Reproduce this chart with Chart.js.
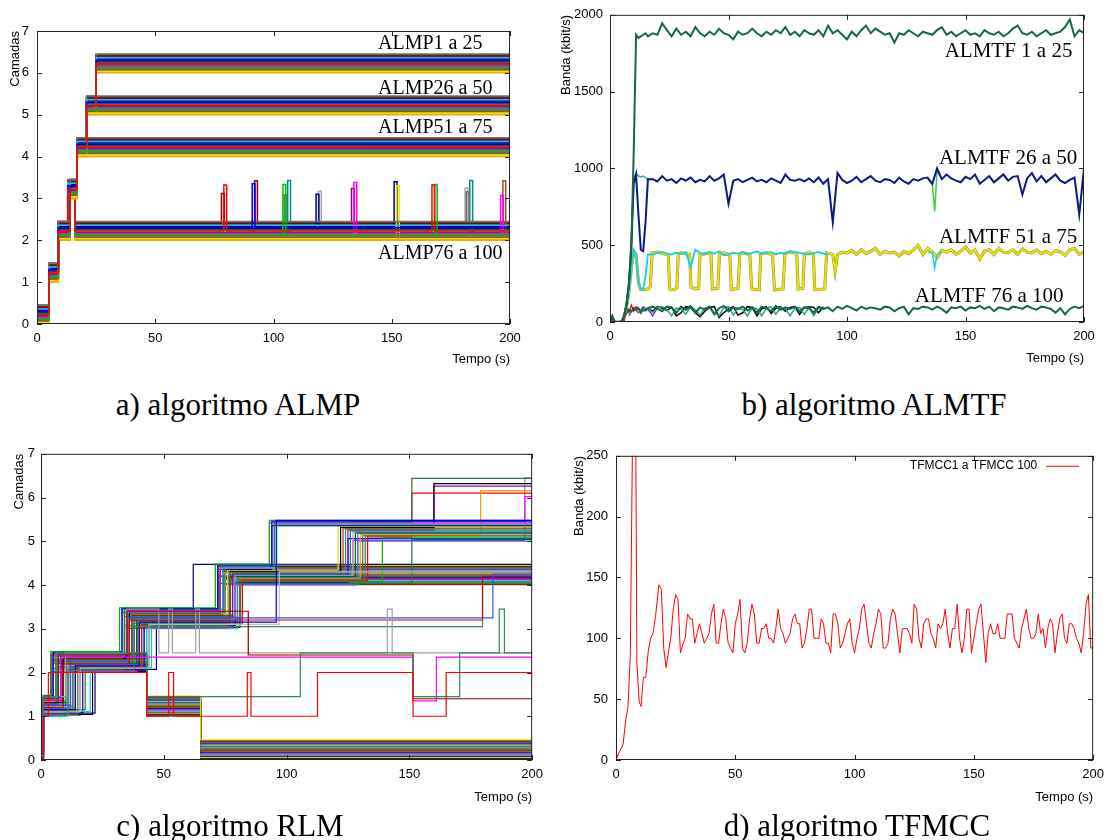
<!DOCTYPE html>
<html>
<head>
<meta charset="utf-8">
<script src="https://cdn.jsdelivr.net/npm/chart.js@4.4.1/dist/chart.umd.min.js"></script>
<style>
  body { margin: 0; width: 1111px; height: 840px; background: #fff; position: relative; overflow: hidden; }
  canvas { position: absolute; }
  .cap { position: absolute; font-family: "Liberation Serif", "Times New Roman", serif; font-size: 31px; line-height: 31px; color: #000; white-space: nowrap; transform: translateX(-50%); }
</style>
</head>
<body>
<canvas id="almp" width="545" height="375" style="left:0;top:0"></canvas>
<canvas id="almtf" width="561" height="375" style="left:550px;top:0"></canvas>
<canvas id="rlm" width="550" height="380" style="left:0;top:440px"></canvas>
<canvas id="tfmcc" width="561" height="380" style="left:550px;top:440px"></canvas>
<div class="cap" style="left:238px;top:389px">a) algoritmo ALMP</div>
<div class="cap" style="left:874px;top:389px">b) algoritmo ALMTF</div>
<div class="cap" style="left:230px;top:810px">c) algoritmo RLM</div>
<div class="cap" style="left:857px;top:810px">d) algoritmo TFMCC</div>
<script>
// ---------- a) ALMP: layer step profiles per group of 25 receivers ----------
const almpTimes1 = [0, 5, 9, 14, 17, 21, 25, 200];
const almpLayers1 = [0, 1, 2, 3, 4, 5, 6, 6];
const almpTimes2 = [0, 5, 9, 14, 17, 21, 200];
const almpLayers2 = [0, 1, 2, 3, 4, 5, 5];
const almpTimes3 = [0, 5, 9, 14, 17, 200];
const almpLayers3 = [0, 1, 2, 3, 4, 4];
const almpTimes4 = [0, 5, 9, 13, 16, 200];
const almpLayers4 = [0, 1, 2, 3, 2, 2];
// per-receiver vertical offset inside a group (gnuplot stacking)
const almpOffsets = [0.22, 0.12, 0.30, 0.16, 0.36, 0.08, 0.45, 0.26, 0.04, 0.33, 0.19, 0.40, 0.10,
                     0.28, 0.02, 0.38, 0.14, 0.43, 0.24, 0.06, 0.34, 0.18, 0.41, 0.31, 0.00];
// short probes of ALMP76..100 to layer 3: [time, receiver, layer reached]
const almpSpikes = [
  [78, 11, 3.12], [79, 0, 3.32], [91, 2, 3.35], [92, 11, 3.42], [104, 1, 3.33], [104.5, 22, 3.08],
  [106, 12, 3.43], [118, 9, 3.1], [119, 23, 3.17], [133, 20, 3.24], [134, 3, 3.38], [151, 9, 3.4],
  [152, 8, 3.3], [167, 0, 3.32], [168, 1, 3.33], [181, 23, 3.25], [181.5, 6, 3.16], [183, 12, 3.43],
  [196, 3, 3.07], [197, 5, 3.42]
];
const almpNames = ['ALMP1 a 25', 'ALMP26 a 50', 'ALMP51 a 75', 'ALMP76 a 100'];

// ---------- b) ALMTF: bandwidth (kbit/s) ----------
const bTime = [0, 1, 2, 3, 4, 5, 6, 7, 8, 9, 10, 11, 12, 13, 14, 15, 16,
  18, 20, 22, 24, 26, 28, 30, 32, 34, 36,
  38, 40, 42, 44, 46, 48, 50, 52, 54, 56,
  58, 60, 62, 64, 66, 68, 70, 72, 74, 76,
  78, 80, 82, 84, 86, 88, 90, 92, 94, 96,
  98, 100, 102, 104, 106, 108, 110, 112, 114, 116,
  118, 120, 122, 124, 126, 128, 130, 132, 134, 136,
  138, 140, 142, 144, 146, 148, 150, 152, 154, 156,
  158, 160, 162, 164, 166, 168, 170, 172, 174, 176,
  178, 180, 182, 184, 186, 188, 190, 192, 194, 196,
  198, 200];
const almtf1to25 = [10, 40, 0, 0, 0, 0, 40, 120, 250, 500, 1100, 1870, 1850, 1860, 1870, 1880, 1860,
  1880, 1870, 1945, 1900, 1860, 1910, 1870, 1890, 1860, 1920,
  1880, 1860, 1890, 1870, 1910, 1880, 1870, 1840, 1890, 1870,
  1880, 1910, 1880, 1860, 1890, 1870, 1900, 1880, 1920, 1870,
  1890, 1860, 1900, 1880, 1870, 1900, 1860, 1930, 1880, 1900,
  1870, 1840, 1890, 1860, 1900, 1930, 1880, 1910, 1890, 1870,
  1880, 1820, 1880, 1870, 1900, 1880, 1860, 1890, 1880, 1870,
  1900, 1920, 1870, 1890, 1860, 1880, 1900, 1870, 1880, 1860,
  1900, 1880, 1870, 1890, 1860, 1880, 1910, 1930, 1880, 1870,
  1890, 1860, 1880, 1900, 1870, 1880, 1890, 1920, 1970, 1860,
  1900, 1880];
const almtf26to50 = [0, 30, 0, 0, 0, 0, 40, 120, 250, 500, 900, 960, 700, 470, 460, 650, 930,
  930, 915, 950, 920, 930, 905, 935, 920, 940, 910,
  925, 915, 950, 920, 935, 960, 770, 920, 930, 910,
  925, 940, 915, 925, 910, 935, 920, 905, 960, 925,
  920, 930, 915, 935, 910, 940, 900, 930, 650, 970,
  925, 905, 920, 945, 910, 930, 950, 920, 910, 930,
  925, 905, 940, 915, 900, 930, 920, 935, 940, 900,
  1000, 930, 960, 935, 920, 910, 945, 930, 960, 900,
  925, 950, 910, 935, 960, 920, 945, 950, 830, 935,
  970, 915, 950, 910, 935, 960, 920, 905, 925, 940,
  700, 1000];
const almtf26to50Start = [[8, 250], [9, 500], [10, 930], [11, 970], [12, 950], [13, 945], [14, 950], [15, 940], [16, 930], [18, 930]];
const almtf26to50Dip = [[134, 930], [136, 900], [137, 720], [138, 980], [140, 930]];
// receivers alternating between 450 and ~210 kbit/s: [time, rate]
const almtf51to75 = [
  [0, 0], [1, 20], [2, 0], [5, 0], [6, 40], [7, 100], [8, 200], [9, 350], [10, 460], [11, 440],
  [12, 260], [12.8, 215], [14, 210], [16, 215], [17, 230], [17.8, 450], [20, 455], [22, 445], [24, 440], [24.6, 430],
  [25.2, 215], [27, 210], [28.2, 220], [28.8, 440], [30, 450], [32, 445], [33.6, 440], [34.2, 225], [36, 215], [37.4, 220],
  [38, 440], [40, 445], [42, 450], [42.6, 440], [43.2, 215], [45.5, 220], [46.2, 445], [48, 450], [50, 440], [50.6, 430],
  [51.2, 210], [54, 220], [54.8, 445], [56, 450], [58, 445], [59, 440], [59.8, 215], [63, 210], [63.6, 445], [66, 450],
  [68, 440], [68.6, 430], [69.4, 210], [73, 215], [73.8, 445], [76, 455], [78, 450], [78.8, 440], [79.4, 215], [81.4, 220],
  [82, 440], [84, 455], [85.8, 440], [86.4, 210], [90.6, 215], [91.4, 450], [94, 440], [95, 330], [96, 440], [98, 455],
  [100, 450], [102, 465], [104, 440], [106, 470], [108, 445], [110, 460], [112, 480], [114, 440], [116, 460], [118, 450],
  [120, 455], [122, 430], [124, 460], [126, 445], [128, 470], [130, 500], [132, 440], [134, 480], [136, 455], [138, 420],
  [140, 465], [142, 455], [144, 470], [146, 440], [148, 460], [150, 490], [152, 450], [154, 470], [156, 410], [158, 460],
  [160, 470], [162, 440], [164, 480], [166, 455], [168, 450], [170, 470], [172, 440], [174, 475], [176, 455], [178, 450],
  [180, 470], [182, 445], [184, 460], [186, 440], [188, 465], [190, 455], [192, 435], [194, 470], [196, 480], [198, 440],
  [200, 455]
];
const almtf51to75Cyan = [0, 20, 0, 0, 0, 0, 40, 100, 200, 350, 470, 440, 260, 215, 215, 300, 440,
  440, 450, 455, 445, 440, 450, 445, 455, 360, 470,
  450, 440, 455, 445, 460, 435, 440, 450, 445, 455,
  440, 450, 460, 445, 450, 455, 440, 450, 445, 460,
  455, 450, 445, 440, 450, 455, 445, 440];
const almtf51to75CyanDip = [[134, 455], [136, 450], [137, 350], [138, 440], [140, 460]];
const almtf76to100 = [50, 20, 0, 0, 0, 10, 30, 60, 80, 70, 90, 80, 90, 60, 85, 75, 90,
  100, 85, 70, 100, 95, 60, 100, 80, 105, 60,
  95, 80, 100, 50, 90, 105, 70, 95, 85, 100,
  75, 95, 60, 100, 90, 70, 105, 80, 95, 85,
  100, 70, 95, 90, 60, 100, 85, 95, 70, 100,
  85, 105, 90, 75, 100, 85, 95, 90, 80, 100,
  95, 70, 90, 100, 50, 90, 85, 100, 95, 80,
  100, 85, 60, 95, 90, 100, 75, 95, 90, 105,
  85, 100, 70, 95, 90, 80, 100, 95, 85, 105,
  90, 80, 100, 95, 85, 60, 90, 50, 85, 100,
  90, 105];
const almtf76to100Teal = [null, null, null, null, null, null, null, null, null, null, null, null, null, null, 70, 80, 90,
  60, 95, 100, 80, 40, 90, 85, 50, 100, 80,
  45, 90, 100, 60, 40, 95, 100, 45, 90, 80,
  40, 95, 85, 40, 90, 100, 50, 95, 85, 40,
  90, 95, 50, 95, 40, 90, 85, 95];
const almtf76to100Black = [null, null, null, null, null, null, null, null, null, null, null, null, null, null, null, null, 90,
  70, 100, 90, 75, 95, 40, 60, 100, 95, 60,
  35, 70, 95, 100, 30, 60, 85, 100, 45, 60,
  100, 95, 40, 85, 100, 55, 90, 100, 70, 95,
  100, 50, 95, 100, 95, 60, 100];
const almtfEarlyRed = [[6, 0], [7, 100], [8, 60], [9, 110], [10, 70], [11, 100], [12, 90], [13, 60]];
const almtfEarlyPurple = [[8, 40], [10, 90], [12, 60], [14, 100], [16, 80], [18, 40], [20, 90]];
const almtfNames = ['ALMTF 1 a 25', 'ALMTF 26 a 50', 'ALMTF 51 a 75', 'ALMTF 76 a 100'];

// ---------- c) RLM: layers per receiver ----------
// climbers: [offset, t->2, t->3, t->4, t->5, t->6]
const rlmClimbers = [
  [0.48, 4, 32, 71, 93, null], [0.46, 5, 33, 72, 94, null], [0.44, 6, 34, 72, 95, 151],
  [0.42, 4, 35, 73, 93, null], [0.40, 7, 33, 74, 96, null], [0.38, 5, 34, 75, 95, null],
  [0.36, 8, 36, 73, 94, null], [0.34, 6, 33, 76, 121, null], [0.32, 9, 35, 74, 122, 160],
  [0.30, 4, 37, 77, 123, null], [0.28, 10, 34, 75, 124, null], [0.26, 5, 36, 78, 125, 160],
  [0.24, 7, 38, 76, 126, null], [0.22, 11, 35, 79, 127, null], [0.20, 6, 39, 77, 128, null],
  [0.18, 12, 37, 80, 129, null], [0.16, 8, 36, 78, 130, 179], [0.14, 13, 40, 81, 131, null],
  [0.12, 9, 38, 74, 132, null], [0.10, 14, 41, 82, 133, 151], [0.08, 5, 34, 76, 139, null],
  [0.06, 10, 42, 79, 125, null], [0.04, 15, 37, 73, 151, null], [0.02, 6, 39, 77, 127, 197],
  [0.00, 11, 43, 80, 129, null], [0.45, 7, 35, 75, 126, 197],
  [0.47, 5, 33, 62, null, null], [0.45, 6, 34, 71, null, null], [0.43, 8, 35, 72, null, null],
  [0.41, 4, 36, 73, null, null], [0.39, 9, 37, 74, null, null], [0.37, 6, 33, 75, null, null],
  [0.35, 10, 38, 76, null, null], [0.33, 5, 34, 77, null, null], [0.31, 11, 39, 78, null, null],
  [0.29, 7, 35, 79, null, null], [0.27, 12, 40, 80, null, null], [0.25, 8, 36, 81, null, null],
  [0.23, 13, 41, 82, null, null], [0.21, 4, 37, 72, null, null], [0.19, 14, 42, 73, null, null],
  [0.17, 9, 38, 74, null, null], [0.15, 18, 44, 75, null, null], [0.13, 6, 39, 76, null, null],
  [0.11, 20, 45, 77, null, null], [0.09, 10, 40, 78, null, null], [0.07, 22, 47, 79, null, null],
  [0.05, 7, 36, 80, null, null], [0.03, 16, 43, 81, null, null], [0.01, 5, 35, 74, null, null]
];
// droppers: [offset, t->2, t->1, t->0]
const rlmDroppers = [
  [0.46, 4, 43, 65], [0.44, 5, 43, 65], [0.42, 6, 43, 65], [0.40, 7, 43, 65], [0.38, 4, 43, 65],
  [0.36, 8, 43, 65], [0.34, 5, 43, 65], [0.32, 9, 43, 65], [0.30, 6, 43, 65], [0.28, 10, 43, 65],
  [0.26, 4, 43, 65], [0.24, 7, 43, 65], [0.22, 11, 43, 65], [0.20, 5, 43, 65], [0.18, 8, 43, 65],
  [0.16, 12, 43, 65], [0.14, 6, 43, 65], [0.12, 9, 43, 65], [0.10, 4, 43, 65], [0.08, 17, 43, 65],
  [0.06, 7, 43, 65], [0.04, 21, 43, 65], [0.02, 5, 43, 65], [0.00, 10, 43, 65]
];
// individual receivers: [time, layer] steps
const rlmOthers = [
  [[0, 0], [1, 1], [3, 2], [43, 1], [52, 2], [54, 1], [84, 2], [85.5, 1], [112.6, 2], [151.5, 1], [165, 2], [200, 2]],
  [[0, 0.45], [1, 1.45], [6, 2.45], [43, 1.45], [105.6, 2.45], [151.5, 1.45], [170.5, 2.45], [186.6, 3.45], [188.7, 2.45], [200, 2.45]],
  [[0, 0.35], [1, 1.35], [8, 2.35], [151.5, 1.35], [161, 2.35], [200, 2.35]],
  [[0, 0.4], [1, 1.4], [7, 2.4], [35, 3.4], [84.4, 2.4], [151.5, 1.4], [200, 1.4]],
  [[0, 0.45], [1, 1.45], [10, 2.45], [35, 3.45], [48, 2.45], [52, 3.45], [53.5, 2.45], [63, 3.45], [64.5, 2.45], [141, 3.45], [143, 2.45], [200, 2.45]],
  [[0, 0.2], [1, 1.2], [9, 2.2], [36, 3.2], [179.8, 4.2], [200, 4.2]],
  [[0, 0.25], [1, 1.25], [12, 2.25], [35, 3.25], [184, 4.25], [200, 4.25]],
  [[0, 0.05], [1, 1.05], [11, 2.05], [38, 3.05], [179.8, 4.05], [200, 4.05]],
  [[0, 0.15], [1, 1.15], [14, 2.15], [40, 3.15], [95.8, 5.48], [200, 5.48]],
  [[0, 0.1], [1, 1.1], [16, 2.1], [44, 3.1], [97, 4.3], [200, 4.3]]
];

// ---------- d) TFMCC: bandwidth (kbit/s) [time, rate] ----------
const tfmccRate = [
  [0, 0], [1, 5], [2, 9], [3, 13], [4, 32], [5, 43], [6, 86], [6.9, 260], [7.5, 400], [8.3, 260],
  [8.75, 80], [9.7, 48], [10.5, 44], [11.5, 68], [12.5, 68], [13.5, 89], [14.5, 100], [15.5, 104], [16.5, 117], [18, 144],
  [19, 140], [20, 92], [21, 76], [22, 89], [23, 101], [24, 124], [25, 136], [26, 132], [27, 88], [28, 95],
  [29, 100], [30, 120], [31, 116], [32, 116], [33, 96], [34, 104], [35, 112], [36, 104], [37, 96], [38, 100],
  [39, 104], [40, 120], [41, 128], [42, 96], [43, 96], [44, 112], [45, 124], [46, 116], [47, 96], [48, 92],
  [49, 88], [50, 112], [51, 120], [52, 132], [53, 92], [54, 88], [55, 96], [56, 116], [57, 128], [58, 120],
  [59, 96], [60, 96], [61, 108], [62, 108], [63, 112], [64, 100], [65, 100], [66, 96], [67, 108], [68, 124],
  [69, 108], [70, 104], [71, 96], [72, 100], [73, 104], [74, 116], [75, 120], [76, 112], [77, 112], [78, 92],
  [79, 96], [80, 108], [81, 124], [82, 124], [83, 100], [84, 100], [85, 100], [86, 116], [87, 112], [88, 96],
  [89, 96], [90, 88], [91, 120], [92, 120], [93, 112], [94, 92], [95, 96], [96, 104], [97, 112], [98, 116],
  [99, 96], [100, 88], [101, 100], [102, 108], [103, 124], [104, 128], [105, 112], [106, 96], [107, 92], [108, 104],
  [109, 112], [110, 124], [111, 120], [112, 92], [113, 92], [114, 96], [115, 116], [116, 124], [117, 120], [118, 104],
  [119, 88], [120, 108], [121, 108], [122, 108], [123, 104], [124, 96], [125, 128], [126, 124], [127, 100], [128, 92],
  [129, 112], [130, 116], [131, 116], [132, 104], [133, 100], [134, 92], [135, 112], [136, 108], [137, 112], [138, 124],
  [139, 104], [140, 92], [141, 108], [142, 108], [143, 128], [144, 100], [145, 88], [146, 100], [147, 124], [148, 124],
  [149, 88], [150, 100], [151, 112], [152, 124], [153, 128], [154, 104], [155, 80], [156, 104], [157, 112], [158, 104],
  [159, 104], [160, 112], [161, 100], [162, 100], [163, 100], [164, 120], [165, 120], [166, 120], [167, 100], [168, 96],
  [169, 92], [170, 108], [171, 116], [172, 124], [173, 108], [174, 100], [175, 100], [176, 104], [177, 120], [178, 104],
  [179, 108], [180, 92], [181, 108], [182, 116], [183, 112], [184, 88], [185, 104], [186, 116], [187, 120], [188, 100],
  [189, 96], [190, 112], [191, 112], [192, 108], [193, 100], [194, 96], [195, 88], [196, 104], [197, 128], [198, 136],
  [199, 92], [200, 92]
];

// ---------- styles ----------
const almpPalette = ['#ff0000', '#00c000', '#0000ff', '#ff00ff', '#00d8d8', '#a0522d', '#707070', '#2f4f4f',
  '#e8e800', '#000080', '#006400', '#8b0000', '#008b8b', '#000000', '#ff9900', '#9400d3', '#2e8b57',
  '#404040', '#5f9ea0', '#556b2f', '#800080', '#3cb371', '#696969', '#a8a8a8', '#f0b000'];
const rlmPalette = ['#00b000', '#0000ff', '#2f6f4f', '#ff00ff', '#00d0d0', '#888888', '#000080', '#e0e000',
  '#000000', '#8b4513', '#2e8b57', '#9400d3', '#008b8b', '#a9a9a9', '#006400', '#4169e1', '#ff9900',
  '#556b2f', '#3c7c6c', '#ff0000'];
const rlmOtherColors = ['#ff0000', '#2e8b57', '#ff00ff', '#8b0000', '#a0a0a0', '#d00000', '#3050ff', '#2e8b57', '#0000cc', '#c0c0c0'];
const tickFont = { family: '"Liberation Sans", Arial, sans-serif', size: 13 };

function lineSet(points, color, width, stepped) {
  return { data: points, borderColor: color, borderWidth: width, stepped: stepped ? 'before' : false,
           pointRadius: 0, fill: false, tension: 0 };
}
const steps = (times, layers, off) => times.map((t, i) => ({ x: t, y: layers[i] + off }));
const pairs = arr => arr.map(([x, y]) => ({ x, y }));
const onTime = vals => vals.map((v, i) => ({ x: bTime[i], y: v }));

// gnuplot-like frame with inward ticks on all four sides
const frameTicks = {
  id: 'frameTicks',
  afterDraw(chart) {
    const { ctx, chartArea: a, scales: { x, y } } = chart;
    ctx.save();
    ctx.strokeStyle = '#222';
    ctx.lineWidth = 1;
    ctx.strokeRect(a.left + 0.5, a.top + 0.5, a.right - a.left - 1, a.bottom - a.top - 1);
    ctx.beginPath();
    x.ticks.forEach(t => {
      const px = Math.round(x.getPixelForValue(t.value)) + 0.5;
      ctx.moveTo(px, a.bottom); ctx.lineTo(px, a.bottom - 5);
      ctx.moveTo(px, a.top); ctx.lineTo(px, a.top + 5);
    });
    y.ticks.forEach(t => {
      const py = Math.round(y.getPixelForValue(t.value)) + 0.5;
      ctx.moveTo(a.left, py); ctx.lineTo(a.left + 5, py);
      ctx.moveTo(a.right, py); ctx.lineTo(a.right - 5, py);
    });
    ctx.stroke();
    ctx.restore();
  }
};

// group names written inside the plot
const groupLabels = {
  id: 'groupLabels',
  afterDatasetsDraw(chart, args, opts) {
    if (!opts.items) return;
    const { ctx, scales: { x, y } } = chart;
    ctx.save();
    ctx.font = opts.font;
    ctx.fillStyle = '#000';
    ctx.textBaseline = 'alphabetic';
    opts.items.forEach(it => ctx.fillText(it.text, x.getPixelForValue(it.x), y.getPixelForValue(it.y)));
    ctx.restore();
  }
};

// gnuplot key: text first, line sample on the right
const gnuplotKey = {
  id: 'gnuplotKey',
  afterDatasetsDraw(chart) {
    const ds = chart.data.datasets[0];
    const { ctx, chartArea: a } = chart;
    ctx.save();
    ctx.font = '12px "Liberation Sans", Arial, sans-serif';
    ctx.fillStyle = '#000';
    ctx.textAlign = 'right';
    ctx.textBaseline = 'middle';
    ctx.fillText(ds.label, a.right - 56, a.top + 10);
    ctx.strokeStyle = ds.borderColor;
    ctx.lineWidth = 1;
    ctx.beginPath();
    ctx.moveTo(a.right - 47, a.top + 10.5);
    ctx.lineTo(a.right - 14, a.top + 10.5);
    ctx.stroke();
    ctx.restore();
  }
};

function makeChart(id, cfg) {
  return new Chart(document.getElementById(id), {
    type: 'line',
    data: { datasets: cfg.datasets },
    plugins: [frameTicks].concat(cfg.plugins || []),
    options: {
      responsive: false,
      animation: false,
      events: [],
      layout: { padding: { top: cfg.top, right: cfg.right, left: 0, bottom: 0 } },
      plugins: Object.assign({ legend: { display: false }, tooltip: { enabled: false } }, cfg.pluginOptions || {}),
      scales: {
        x: {
          type: 'linear', min: 0, max: 200,
          ticks: { stepSize: 50, color: '#000', font: tickFont, padding: 7, maxRotation: 0, callback: v => String(v) },
          grid: { display: false, drawTicks: false }, border: { display: false },
          title: { display: true, text: 'Tempo (s)', align: 'end', color: '#000', font: tickFont, padding: { top: 0, bottom: cfg.xTitlePad } },
          afterFit: s => { s.height = cfg.xHeight; }
        },
        y: {
          type: 'linear', min: 0, max: cfg.yMax,
          ticks: { stepSize: cfg.yStep, color: '#000', font: tickFont, padding: cfg.yTickPad, callback: v => String(v) },
          grid: { display: false, drawTicks: false }, border: { display: false },
          title: { display: true, text: cfg.yTitle, align: 'end', color: '#000', font: tickFont, padding: { top: cfg.yTitlePad, bottom: 0 } },
          afterFit: s => { s.width = cfg.yWidth; }
        }
      }
    }
  });
}

// ----- a) -----
const almpSets = [];
[[almpTimes1, almpLayers1], [almpTimes2, almpLayers2], [almpTimes3, almpLayers3]].forEach(([times, layers]) => {
  almpOffsets.forEach((off, k) => almpSets.push(lineSet(steps(times, layers, off), almpPalette[k], 1.5, true)));
});
almpOffsets.forEach((off, k) => {
  const pts = steps(almpTimes4, almpLayers4, off);
  const last = pts.pop();
  almpSpikes.filter(s => s[1] === k).forEach(([t, , peak]) => {
    pts.push({ x: t, y: peak }, { x: t + 1.2, y: last.y });
  });
  pts.push(last);
  almpSets.push(lineSet(pts, almpPalette[k], 1.5, true));
});
makeChart('almp', {
  datasets: almpSets, top: 31, right: 35, yWidth: 37, xHeight: 51, xTitlePad: 8,
  yMax: 7, yStep: 1, yTitle: 'Camadas', yTitlePad: 8, yTickPad: 8,
  plugins: [groupLabels],
  pluginOptions: { groupLabels: { font: '20px "Liberation Serif", "Times New Roman", serif', items: [
    { text: almpNames[0], x: 144.2, y: 6.56 },
    { text: almpNames[1], x: 144.2, y: 5.49 },
    { text: almpNames[2], x: 144.2, y: 4.56 },
    { text: almpNames[3], x: 144.2, y: 1.55 }
  ] } }
});

// ----- b) -----
const almtfSets = [
  lineSet(onTime(almtf1to25), '#17683f', 2),
  lineSet(onTime(almtf26to50), '#0a1a80', 2),
  lineSet(pairs(almtf26to50Start), '#36a2b4', 1.5),
  lineSet(pairs(almtf26to50Dip), '#40d040', 1.5),
  lineSet(onTime(almtf51to75Cyan), '#20d0e0', 2),
  lineSet(pairs(almtf51to75CyanDip), '#20d0e0', 1.5),
  lineSet(pairs(almtf51to75), '#e6e600', 2),
  lineSet(pairs(almtf51to75), '#a08030', 3),
  lineSet(onTime(almtf76to100), '#17683f', 2),
  lineSet(onTime(almtf76to100Teal), '#2a9d9d', 1.5),
  lineSet(onTime(almtf76to100Black), '#000000', 1.5),
  lineSet(pairs(almtfEarlyRed), '#d00000', 1.2),
  lineSet(pairs(almtfEarlyPurple), '#7030a0', 1.2)
];
makeChart('almtf', {
  datasets: almtfSets, top: 13, right: 27, yWidth: 60, xHeight: 53, xTitlePad: 9,
  yMax: 2000, yStep: 500, yTitle: 'Banda (kbit/s)', yTitlePad: 8.5, yTickPad: 7,
  plugins: [groupLabels],
  pluginOptions: { groupLabels: { font: '21px "Liberation Serif", "Times New Roman", serif', items: [
    { text: almtfNames[0], x: 141.2, y: 1724 },
    { text: almtfNames[1], x: 138.8, y: 1027 },
    { text: almtfNames[2], x: 138.8, y: 516 },
    { text: almtfNames[3], x: 128.6, y: 131 }
  ] } }
});

// ----- c) -----
const rlmSets = [];
rlmOthers.forEach((st, i) => rlmSets.push(lineSet(pairs(st), rlmOtherColors[i], 1.2, true)));
rlmClimbers.forEach(([off, ...ts], i) => {
  const pts = [{ x: 0, y: off }, { x: 1, y: 1 + off }];
  ts.forEach((t, j) => { if (t !== null) pts.push({ x: t, y: j + 2 + off }); });
  pts.push({ x: 200, y: pts[pts.length - 1].y });
  rlmSets.push(lineSet(pts, rlmPalette[i % rlmPalette.length], 1.2, true));
});
rlmDroppers.forEach(([off, t2, t1, t0], i) => {
  const pts = [{ x: 0, y: off }, { x: 1, y: 1 + off }, { x: t2, y: 2 + off }, { x: t1, y: 1 + off }, { x: t0, y: off }, { x: 200, y: off }];
  rlmSets.push(lineSet(pts, rlmPalette[(i + 7) % rlmPalette.length], 1.2, true));
});
makeChart('rlm', {
  datasets: rlmSets, top: 12, right: 12, yWidth: 41, xHeight: 60, xTitlePad: 15,
  yMax: 7, yStep: 1, yTitle: 'Camadas', yTitlePad: 12, yTickPad: 6
});

// ----- d) -----
const tfmccSet = lineSet(pairs(tfmccRate), '#ff0000', 1);
tfmccSet.label = 'TFMCC1 a TFMCC 100';
makeChart('tfmcc', {
  datasets: [tfmccSet], top: 11, right: 13, yWidth: 66, xHeight: 60, xTitlePad: 15,
  yMax: 250, yStep: 50, yTitle: 'Banda (kbit/s)', yTitlePad: 22, yTickPad: 8,
  plugins: [gnuplotKey]
});
</script>
</body>
</html>
